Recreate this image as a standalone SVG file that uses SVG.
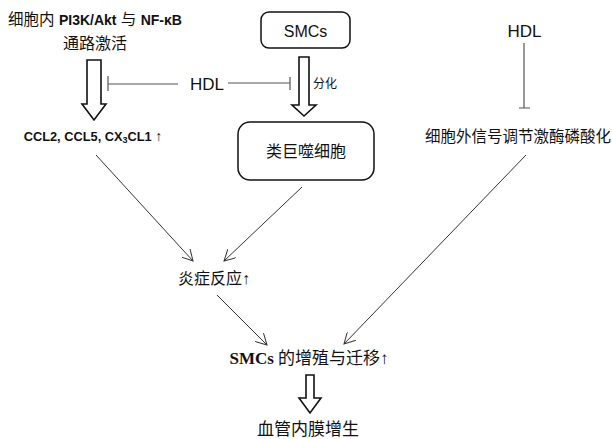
<svg xmlns="http://www.w3.org/2000/svg" width="612" height="439" viewBox="0 0 612 439">
<style>
.cjk{font-family:"Liberation Sans","Noto Sans CJK SC",sans-serif;fill:#111}
.ser{font-family:"Liberation Serif","Noto Sans CJK SC",serif;fill:#111}
.lat{font-family:"Liberation Sans","Noto Sans CJK SC",sans-serif;fill:#111}
.box{fill:#fff;stroke:#111;stroke-width:1.5}
.hollow{fill:#fff;stroke:#111;stroke-width:1.6;stroke-linejoin:miter}
.ln{stroke:#333;stroke-width:1;fill:none}
.inh{stroke:#555;stroke-width:1.2;fill:none}
</style>
<defs>
<marker id="ah" viewBox="0 0 12 12" refX="11" refY="6" markerWidth="12" markerHeight="12" markerUnits="userSpaceOnUse" orient="auto">
<path d="M0,0 L11,6 L0,12" fill="none" stroke="#333" stroke-width="1"/>
</marker>
</defs>
<g id="pathway">
<text class="cjk" x="95" y="25" font-size="15.5" text-anchor="middle">细胞内 <tspan font-weight="bold" font-size="14">PI3K/Akt</tspan> 与 <tspan font-weight="bold" font-size="14">NF-κB</tspan></text>
<text class="cjk" x="95" y="49" font-size="16" text-anchor="middle">通路激活</text>
</g>
<g id="ccl">
<text class="lat" x="93" y="141" font-size="12.8" font-weight="bold" text-anchor="middle">CCL2, CCL5, CX<tspan font-size="9" dy="2">3</tspan><tspan dy="-2">CL1 </tspan><tspan font-weight="normal" font-size="14">↑</tspan></text>
</g>
<g id="hdl1">
<text class="lat" x="207" y="90" font-size="17" text-anchor="middle">HDL</text>
</g>
<g id="smcs">
<rect class="box" x="261" y="12" width="89" height="36" rx="8"/>
<text class="lat" x="305.5" y="37" font-size="16" text-anchor="middle">SMCs</text>
</g>
<g id="macrophage">
<rect class="box" x="238" y="122" width="136" height="58" rx="12"/>
<text class="cjk" x="306" y="157" font-size="16" text-anchor="middle">类巨噬细胞</text>
</g>
<g id="hdl2">
<text class="lat" x="524.5" y="37" font-size="17" text-anchor="middle">HDL</text>
</g>
<g id="erk">
<text class="cjk" x="518" y="142" font-size="15.5" text-anchor="middle">细胞外信号调节激酶磷酸化</text>
</g>
<g id="inflammation">
<text class="ser" x="214" y="284" font-size="16" text-anchor="middle">炎症反应↑</text>
</g>
<g id="proliferation">
<text class="ser" x="309" y="364" font-size="17" text-anchor="middle"><tspan font-weight="bold">SMCs</tspan> 的增殖与迁移↑</text>
</g>
<g id="hyperplasia">
<text class="ser" x="308" y="435" font-size="17" text-anchor="middle">血管内膜增生</text>
</g>
<g id="connectors">
<polygon class="hollow" points="87,60 101,60 101,104 106,104 94,120 82,104 87,104"/>
<polygon class="hollow" points="299,57 309,57 309,105 316,105 304,116 292,105 299,105"/>
<text class="cjk" x="313" y="88" font-size="12">分化</text>
<polygon class="hollow" points="306,375 314,375 314,398 321,398 310,413 299,398 306,398"/>
<path class="inh" d="M178,84 H108 M108,76 V91"/>
<path class="inh" d="M228,83 H290 M290,77 V90"/>
<path class="inh" d="M524,43 V108 M519,108 H530"/>
<path class="ln" d="M96,155 L193,261" marker-end="url(#ah)"/>
<path class="ln" d="M302,187 L224,261" marker-end="url(#ah)"/>
<path class="ln" d="M217,295 L267,345" marker-end="url(#ah)"/>
<path class="ln" d="M526,155 L344,344" marker-end="url(#ah)"/>
</g>
</svg>
